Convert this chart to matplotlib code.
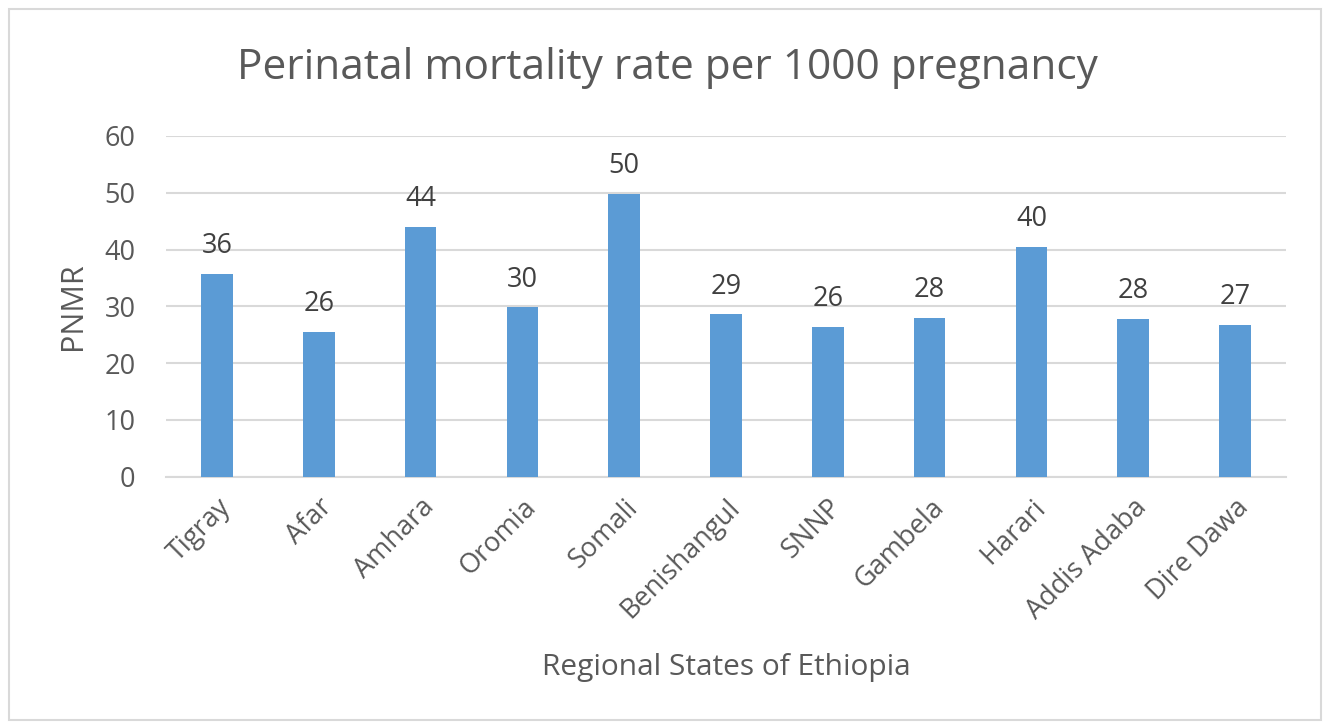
import matplotlib
matplotlib.use("Agg")
import matplotlib.pyplot as plt
from matplotlib.patches import Rectangle

regions = ["Tigray", "Afar", "Amhara", "Oromia", "Somali", "Benishangul",
           "SNNP", "Gambela", "Harari", "Addis Adaba", "Dire Dawa"]
pnmr = [35.7, 25.5, 44.0, 29.8, 49.8, 28.6, 26.4, 28.0, 40.5, 27.8, 26.8]
yticks = [0, 10, 20, 30, 40, 50, 60]

plt.rcParams['font.family'] = ['Open Sans', 'DejaVu Sans']

fig = plt.figure(figsize=(13.27, 7.25), dpi=100)
fig.patches.append(Rectangle((9/1327, 5/725), 1312/1327, 711/725, transform=fig.transFigure,
                             fill=False, edgecolor='#D9D9D9', linewidth=1.5))
ax = fig.add_axes([166/1327, 1 - 476.7/725, 1120/1327, 340.7/725])

x = list(range(len(regions)))
ax.bar(x, pnmr, width=0.31, color='#5B9BD5', zorder=3)
for xi, v in zip(x, pnmr):
    ax.text(xi, v + 2.4, f"{v:.0f}", ha='center', va='bottom', fontsize=19.5, color='#404040')

ax.set_xlim(-0.5, len(regions) - 0.5)
ax.set_ylim(0, 60)
ax.set_yticks(yticks)
ax.yaxis.grid(True, color='#D9D9D9', linewidth=1.5, zorder=0)
for s in ['top', 'right', 'left']:
    ax.spines[s].set_visible(False)
ax.spines['bottom'].set_color('#D9D9D9')
ax.spines['bottom'].set_linewidth(1.5)
ax.tick_params(axis='both', length=0, labelsize=19.5, colors='#595959')
ax.tick_params(axis='y', pad=22)
ax.set_xticks(x)
ax.set_xticklabels(regions, rotation=45, ha='right', rotation_mode='anchor')
ax.tick_params(axis='x', pad=12)

ax.set_ylabel("PNMR", fontsize=22, color='#595959', labelpad=12)
ax.set_xlabel("Regional States of Ethiopia", fontsize=21.5, color='#595959', labelpad=20)
fig.text(0.503, 1 - 68/725, "Perinatal mortality rate per 1000 pregnancy", ha='center', va='center',
         fontsize=30.5, color='#595959')

fig.savefig("out.png", dpi=100)
